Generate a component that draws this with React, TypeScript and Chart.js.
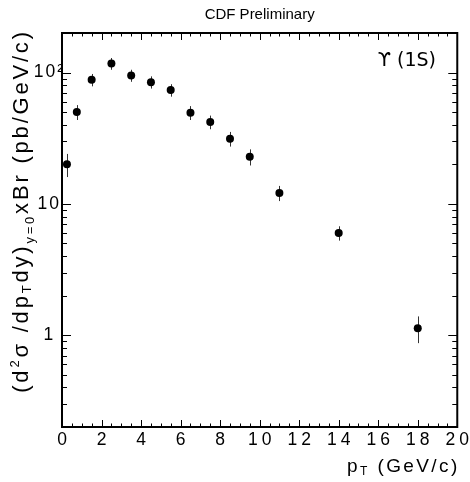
import React, { useEffect, useRef } from 'react';
import { Chart, registerables } from 'chart.js';

Chart.register(...registerables);

// ---- data ----
const ptBins = [0.25, 0.75, 1.5, 2.5, 3.5, 4.5, 5.5, 6.5, 7.5, 8.5, 9.5, 11, 14, 18];
const crossSection = [20, 50, 88, 117, 95, 84.5, 73.5, 49.5, 42, 31.3, 22.8, 12.1, 6.0, 1.13];
const crossSectionErr = [4, 6.5, 9.5, 12, 10, 9, 8, 6, 5, 4, 3.2, 1.6, 0.75, 0.26];

const xRange = [0, 20];
const yRange = [0.2, 200];
const yMajorTicks = [1, 10, 100];
const yMajorLabels = ['1', '10', '10²'];

const titleText = 'CDF Preliminary';
const stateLabel = 'ϒ (1S)';

type Seg = { text: string; size: number; dy: number };
const yTitleParts: Seg[] = [
  { text: '(d', size: 22, dy: 0 },
  { text: '2', size: 13, dy: -9 },
  { text: 'σ /dp', size: 22, dy: 0 },
  { text: 'T', size: 13, dy: 3 },
  { text: 'dy)', size: 22, dy: 0 },
  { text: 'y=0', size: 13, dy: 6 },
  { text: 'xBr (pb/GeV/c)', size: 22, dy: 0 },
];
const xTitleParts: Seg[] = [
  { text: 'p', size: 19, dy: 0 },
  { text: 'T', size: 12, dy: 3 },
  { text: ' (GeV/c)', size: 19, dy: 0 },
];

const FONT = '"Liberation Sans", Arial, Helvetica, sans-serif';

function segsWidth(ctx: CanvasRenderingContext2D, segs: Seg[], spacing: number) {
  let w = 0;
  let n = 0;
  for (const s of segs) {
    ctx.font = `${s.size}px ${FONT}`;
    for (const ch of s.text) {
      w += ctx.measureText(ch).width;
      n++;
    }
  }
  return w + spacing * Math.max(0, n - 1);
}

function drawSegs(ctx: CanvasRenderingContext2D, segs: Seg[], x0: number, y0: number, spacing: number) {
  let x = x0;
  for (const s of segs) {
    ctx.font = `${s.size}px ${FONT}`;
    for (const ch of s.text) {
      ctx.fillText(ch, x, y0 + s.dy);
      x += ctx.measureText(ch).width + spacing;
    }
  }
}

const X_TICK_SPACING = 4;
const Y_TICK_SPACING = 2;

const rootStylePlugin = {
  id: 'rootStyle',
  beforeDraw(chart: any) {
    (chart.ctx as any).letterSpacing = `${X_TICK_SPACING}px`;
  },
  beforeDatasetsDraw(chart: any) {
    const ctx: CanvasRenderingContext2D = chart.ctx;
    (ctx as any).letterSpacing = '0px';
    const xs = chart.scales.x;
    const ys = chart.scales.y;
    ctx.save();
    ctx.strokeStyle = '#333';
    ctx.lineWidth = 1;
    ptBins.forEach((pt, i) => {
      const px = Math.round(xs.getPixelForValue(pt)) + 0.5;
      const lo = ys.getPixelForValue(crossSection[i] - crossSectionErr[i]);
      const hi = ys.getPixelForValue(crossSection[i] + crossSectionErr[i]);
      ctx.beginPath();
      ctx.moveTo(px, lo);
      ctx.lineTo(px, hi);
      ctx.stroke();
    });
    ctx.restore();
  },
  afterDatasetsDraw(chart: any) {
    (chart.ctx as any).letterSpacing = `${Y_TICK_SPACING}px`;
  },
  afterDraw(chart: any) {
    const ctx: CanvasRenderingContext2D = chart.ctx;
    (ctx as any).letterSpacing = '0px';
    const { left, right, top, bottom } = chart.chartArea;
    const xs = chart.scales.x;
    const ys = chart.scales.y;
    ctx.save();
    ctx.strokeStyle = '#000';
    // tick marks
    ctx.lineWidth = 1;
    ctx.beginPath();
    for (let v = xRange[0]; v <= xRange[1] + 1e-9; v += 0.5) {
      const px = Math.round(xs.getPixelForValue(v)) + 0.5;
      const len = Math.abs(v % 2) < 1e-9 ? 7 : 3.5;
      ctx.moveTo(px, bottom);
      ctx.lineTo(px, bottom - len);
      ctx.moveTo(px, top);
      ctx.lineTo(px, top + len);
    }
    for (let d = 0.1; d <= 100 + 1e-9; d *= 10) {
      for (let m = 1; m <= 9; m++) {
        const v = m * d;
        if (v < yRange[0] - 1e-9 || v > yRange[1] + 1e-9) continue;
        const py = Math.round(ys.getPixelForValue(v)) + 0.5;
        const len = m === 1 ? 9 : 5;
        ctx.moveTo(left, py);
        ctx.lineTo(left + len, py);
        ctx.moveTo(right, py);
        ctx.lineTo(right - len, py);
      }
    }
    ctx.stroke();
    // frame
    ctx.lineWidth = 2;
    ctx.strokeRect(left, top, right - left, bottom - top);

    ctx.fillStyle = '#000';
    ctx.textBaseline = 'alphabetic';
    // title
    ctx.textAlign = 'center';
    ctx.font = `15px ${FONT}`;
    ctx.fillText(titleText, (left + right) / 2, 19);
    // state label
    ctx.textAlign = 'right';
    ctx.font = `19px "DejaVu Sans", ${FONT}`;
    ctx.fillText(stateLabel, 436, 66);
    ctx.textAlign = 'left';
    // x title (right aligned to axis end)
    const xw = segsWidth(ctx, xTitleParts, 2.4);
    drawSegs(ctx, xTitleParts, right - xw, 472, 2.4);
    // y title (rotated, aligned to top of axis)
    const yw = segsWidth(ctx, yTitleParts, 2.8);
    ctx.translate(28, top - 1);
    ctx.rotate(-Math.PI / 2);
    drawSegs(ctx, yTitleParts, -yw, 0, 2.8);
    ctx.restore();
  },
};

export default function App() {
  const canvasRef = useRef<HTMLCanvasElement | null>(null);

  useEffect(() => {
    if (!canvasRef.current) return;
    const chart = new Chart(canvasRef.current, {
      type: 'scatter',
      data: {
        datasets: [
          {
            label: 'Upsilon(1S)',
            data: ptBins.map((x, i) => ({ x, y: crossSection[i] })),
            backgroundColor: '#000',
            borderColor: '#000',
            pointRadius: 4,
            pointBorderWidth: 0,
          },
        ],
      },
      options: {
        animation: false,
        responsive: true,
        maintainAspectRatio: false,
        layout: { padding: { top: 33, right: 12, bottom: 0, left: 0 } },
        plugins: { legend: { display: false }, tooltip: { enabled: false }, title: { display: false } },
        scales: {
          x: {
            type: 'linear',
            min: xRange[0],
            max: xRange[1],
            grid: { display: false, drawTicks: false },
            border: { display: false },
            ticks: {
              stepSize: 2,
              padding: 3,
              labelOffset: X_TICK_SPACING / 2,
              color: '#000',
              font: { family: FONT, size: 17.5 },
              maxRotation: 0,
              autoSkip: false,
              z: 0,
            },
            afterFit: (s: any) => {
              s.height = 55;
            },
          },
          y: {
            type: 'logarithmic',
            min: yRange[0],
            max: yRange[1],
            grid: { display: false, drawTicks: false },
            border: { display: false },
            ticks: {
              padding: 0,
              crossAlign: 'center',
              color: '#000',
              font: { family: FONT, size: 17.5 },
              autoSkip: false,
              z: 1,
              callback: (value: any) => {
                const v = Number(value);
                const idx = yMajorTicks.findIndex((t) => Math.abs(t - v) < 1e-6 * t);
                return idx >= 0 ? yMajorLabels[idx] : '';
              },
            },
            afterFit: (s: any) => {
              s.width = 62;
            },
          },
        },
      },
      plugins: [rootStylePlugin],
    } as any);
    return () => chart.destroy();
  }, []);

  return (
    <div style={{ position: 'absolute', left: 0, top: 0, width: 470, height: 482 }}>
      <canvas ref={canvasRef} />
    </div>
  );
}
